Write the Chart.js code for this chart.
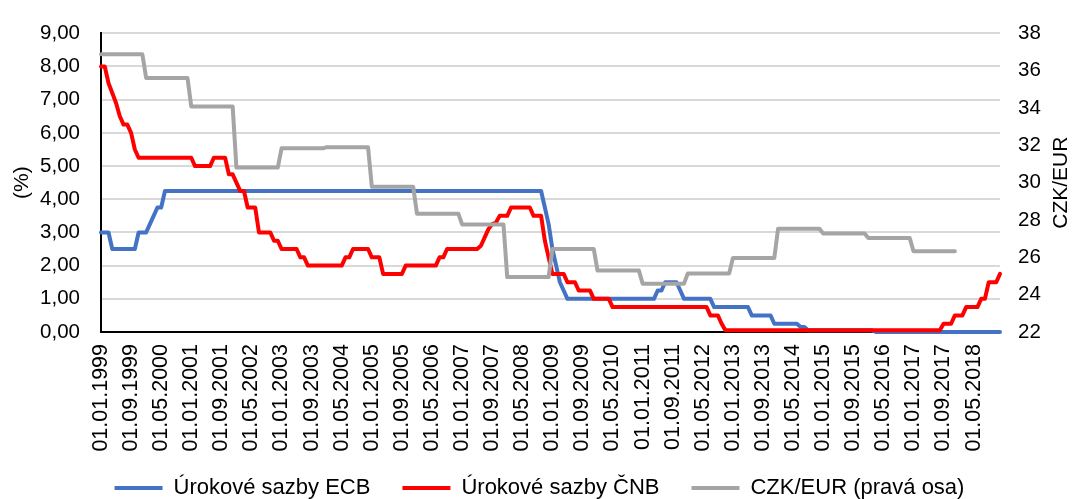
<!DOCTYPE html>
<html>
<head>
<meta charset="utf-8">
<script src="https://cdn.jsdelivr.net/npm/chart.js@4.4.1/dist/chart.umd.min.js"></script>
<style>
  html, body { margin: 0; padding: 0; background: #fff; }
  #wrap { width: 1073px; height: 499px; }
</style>
</head>
<body>
<div id="wrap"><canvas id="chart" width="1073" height="499"></canvas></div>
<script>
// Monthly categories, 01.01.1999 .. 01.12.2018
const months = [];
for (let y = 1999; y <= 2018; y++) {
    for (let m = 1; m <= 12; m++) {
        months.push('01.' + String(m).padStart(2, '0') + '.' + y);
    }
}
const labelEvery = 8;

// ECB rate (%), one row per year
const ecbRate = [
    3.00, 3.00, 3.00, 2.50, 2.50, 2.50, 2.50, 2.50, 2.50, 2.50, 3.00, 3.00,
    3.00, 3.25, 3.50, 3.75, 3.75, 4.25, 4.25, 4.25, 4.25, 4.25, 4.25, 4.25,
    4.25, 4.25, 4.25, 4.25, 4.25, 4.25, 4.25, 4.25, 4.25, 4.25, 4.25, 4.25,
    4.25, 4.25, 4.25, 4.25, 4.25, 4.25, 4.25, 4.25, 4.25, 4.25, 4.25, 4.25,
    4.25, 4.25, 4.25, 4.25, 4.25, 4.25, 4.25, 4.25, 4.25, 4.25, 4.25, 4.25,
    4.25, 4.25, 4.25, 4.25, 4.25, 4.25, 4.25, 4.25, 4.25, 4.25, 4.25, 4.25,
    4.25, 4.25, 4.25, 4.25, 4.25, 4.25, 4.25, 4.25, 4.25, 4.25, 4.25, 4.25,
    4.25, 4.25, 4.25, 4.25, 4.25, 4.25, 4.25, 4.25, 4.25, 4.25, 4.25, 4.25,
    4.25, 4.25, 4.25, 4.25, 4.25, 4.25, 4.25, 4.25, 4.25, 4.25, 4.25, 4.25,
    4.25, 4.25, 4.25, 4.25, 4.25, 4.25, 4.25, 4.25, 4.25, 4.25, 3.75, 3.25,
    2.50, 2.00, 1.50, 1.25, 1.00, 1.00, 1.00, 1.00, 1.00, 1.00, 1.00, 1.00,
    1.00, 1.00, 1.00, 1.00, 1.00, 1.00, 1.00, 1.00, 1.00, 1.00, 1.00, 1.00,
    1.00, 1.00, 1.00, 1.00, 1.25, 1.25, 1.50, 1.50, 1.50, 1.50, 1.25, 1.00,
    1.00, 1.00, 1.00, 1.00, 1.00, 1.00, 1.00, 0.75, 0.75, 0.75, 0.75, 0.75,
    0.75, 0.75, 0.75, 0.75, 0.75, 0.50, 0.50, 0.50, 0.50, 0.50, 0.50, 0.25,
    0.25, 0.25, 0.25, 0.25, 0.25, 0.25, 0.15, 0.15, 0.05, 0.05, 0.05, 0.05,
    0.05, 0.05, 0.05, 0.05, 0.05, 0.05, 0.05, 0.05, 0.05, 0.05, 0.05, 0.05,
    0.05, 0.05, 0.00, 0.00, 0.00, 0.00, 0.00, 0.00, 0.00, 0.00, 0.00, 0.00,
    0.00, 0.00, 0.00, 0.00, 0.00, 0.00, 0.00, 0.00, 0.00, 0.00, 0.00, 0.00,
    0.00, 0.00, 0.00, 0.00, 0.00, 0.00, 0.00, 0.00, 0.00, 0.00, 0.00, 0.00
];

// CNB 2W repo rate (%), one row per year
const cnbRate = [
    8.00, 8.00, 7.50, 7.20, 6.90, 6.50, 6.25, 6.25, 6.00, 5.50, 5.25, 5.25,
    5.25, 5.25, 5.25, 5.25, 5.25, 5.25, 5.25, 5.25, 5.25, 5.25, 5.25, 5.25,
    5.25, 5.00, 5.00, 5.00, 5.00, 5.00, 5.25, 5.25, 5.25, 5.25, 4.75, 4.75,
    4.50, 4.25, 4.25, 3.75, 3.75, 3.75, 3.00, 3.00, 3.00, 3.00, 2.75, 2.75,
    2.50, 2.50, 2.50, 2.50, 2.50, 2.25, 2.25, 2.00, 2.00, 2.00, 2.00, 2.00,
    2.00, 2.00, 2.00, 2.00, 2.00, 2.25, 2.25, 2.50, 2.50, 2.50, 2.50, 2.50,
    2.25, 2.25, 2.25, 1.75, 1.75, 1.75, 1.75, 1.75, 1.75, 2.00, 2.00, 2.00,
    2.00, 2.00, 2.00, 2.00, 2.00, 2.00, 2.25, 2.25, 2.50, 2.50, 2.50, 2.50,
    2.50, 2.50, 2.50, 2.50, 2.50, 2.60, 2.85, 3.10, 3.25, 3.30, 3.50, 3.50,
    3.50, 3.75, 3.75, 3.75, 3.75, 3.75, 3.75, 3.50, 3.50, 3.50, 2.75, 2.25,
    1.75, 1.75, 1.75, 1.75, 1.50, 1.50, 1.50, 1.25, 1.25, 1.25, 1.25, 1.00,
    1.00, 1.00, 1.00, 1.00, 0.75, 0.75, 0.75, 0.75, 0.75, 0.75, 0.75, 0.75,
    0.75, 0.75, 0.75, 0.75, 0.75, 0.75, 0.75, 0.75, 0.75, 0.75, 0.75, 0.75,
    0.75, 0.75, 0.75, 0.75, 0.75, 0.75, 0.50, 0.50, 0.50, 0.25, 0.05, 0.05,
    0.05, 0.05, 0.05, 0.05, 0.05, 0.05, 0.05, 0.05, 0.05, 0.05, 0.05, 0.05,
    0.05, 0.05, 0.05, 0.05, 0.05, 0.05, 0.05, 0.05, 0.05, 0.05, 0.05, 0.05,
    0.05, 0.05, 0.05, 0.05, 0.05, 0.05, 0.05, 0.05, 0.05, 0.05, 0.05, 0.05,
    0.05, 0.05, 0.05, 0.05, 0.05, 0.05, 0.05, 0.05, 0.05, 0.05, 0.05, 0.05,
    0.05, 0.05, 0.05, 0.05, 0.05, 0.05, 0.05, 0.05, 0.25, 0.25, 0.25, 0.50,
    0.50, 0.50, 0.75, 0.75, 0.75, 0.75, 1.00, 1.00, 1.50, 1.50, 1.50, 1.75
];

// CZK/EUR annual average, 1999 .. 2017 (right axis)
const czkEurYear = [
    36.88, 35.61, 34.08, 30.81, 31.84, 31.90, 29.78, 28.34, 27.76, 24.94,
    26.45, 25.29, 24.59, 25.14, 25.97, 27.53, 27.28, 27.03, 26.33
];
// each month carries its year's average; no value for 2018
const czkEur = months.map((_, i) => czkEurYear[Math.floor(i / 12)] ?? null);

const fontFamily = '"Liberation Sans", Arial, sans-serif';
Chart.defaults.font.family = fontFamily;
Chart.defaults.font.size = 21;
Chart.defaults.color = '#000';

// right axis title reads bottom-to-top like the left one
const rightTitle = {
    id: 'rightTitle',
    afterDraw(chart) {
        const { ctx, chartArea } = chart;
        const axis = chart.scales.y1;
        ctx.save();
        ctx.translate(axis.right - 12, (chartArea.top + chartArea.bottom) / 2);
        ctx.rotate(-Math.PI / 2);
        ctx.font = '21px ' + fontFamily;
        ctx.fillStyle = '#000';
        ctx.textAlign = 'center';
        ctx.textBaseline = 'middle';
        ctx.fillText('CZK/EUR', 0, 0);
        ctx.restore();
    }
};

// the date labels run down into the legend band; don't let the x box clip them
const tallDateLabels = {
    id: 'tallDateLabels',
    afterLayout(chart) {
        chart.scales.x.bottom = chart.height;
    }
};

const lineStyle = {
    borderWidth: 4,
    pointRadius: 0,
    pointHoverRadius: 0,
    tension: 0,
    fill: false,
    borderCapStyle: 'round',
    borderJoinStyle: 'round',
    clip: false
};

new Chart(document.getElementById('chart'), {
    type: 'line',
    data: {
        labels: months,
        datasets: [
            { ...lineStyle, label: 'Úrokové sazby ECB', data: ecbRate, borderColor: '#4472C4', backgroundColor: '#4472C4', yAxisID: 'y', order: 3 },
            { ...lineStyle, label: 'Úrokové sazby ČNB', data: cnbRate, borderColor: '#FF0000', backgroundColor: '#FF0000', yAxisID: 'y', order: 2 },
            { ...lineStyle, label: 'CZK/EUR (pravá osa)', data: czkEur, borderColor: '#A5A5A5', backgroundColor: '#A5A5A5', yAxisID: 'y1', order: 1 }
        ]
    },
    options: {
        responsive: false,
        animation: false,
        events: [],
        layout: { padding: { left: 6, top: 25, right: 0, bottom: -10 } },
        scales: {
            x: {
                offset: false,
                grid: { display: false, drawTicks: false },
                border: { display: true, color: '#000', width: 2 },
                ticks: {
                    autoSkip: false,
                    minRotation: 90,
                    maxRotation: 90,
                    padding: 12,
                    font: { size: 21.5 },
                    callback: (value, index) => index % labelEvery === 0 ? months[index] : ''
                },
                afterFit: (scale) => { scale.height = 113; }
            },
            y: {
                position: 'left',
                min: 0,
                max: 9,
                ticks: {
                    stepSize: 1,
                    padding: 21,
                    font: { size: 20.5 },
                    callback: (value) => value.toFixed(2).replace('.', ',')
                },
                grid: { color: '#d9d9d9', lineWidth: 2, drawTicks: false },
                border: { display: true, color: '#000', width: 2 },
                title: { display: true, text: '(%)', padding: { top: 4, bottom: 4 } },
                afterFit: (scale) => { scale.width = 95; }
            },
            y1: {
                position: 'right',
                min: 22,
                max: 38,
                ticks: { stepSize: 2, padding: 18, font: { size: 20.5 } },
                grid: { drawOnChartArea: false, drawTicks: false },
                border: { display: false },
                afterFit: (scale) => { scale.width = 73; }
            }
        },
        plugins: {
            tooltip: { enabled: false },
            legend: {
                position: 'bottom',
                labels: {
                    boxWidth: 48,
                    boxHeight: 4,
                    padding: 32,
                    font: { size: 22 },
                    generateLabels: (chart) => {
                        const items = Chart.defaults.plugins.legend.labels.generateLabels(chart);
                        items.forEach(item => {
                            item.fillStyle = item.strokeStyle;
                            item.lineWidth = 0;
                        });
                        return items.sort((a, b) => a.datasetIndex - b.datasetIndex);
                    }
                }
            }
        }
    },
    plugins: [rightTitle, tallDateLabels]
});
</script>
</body>
</html>
